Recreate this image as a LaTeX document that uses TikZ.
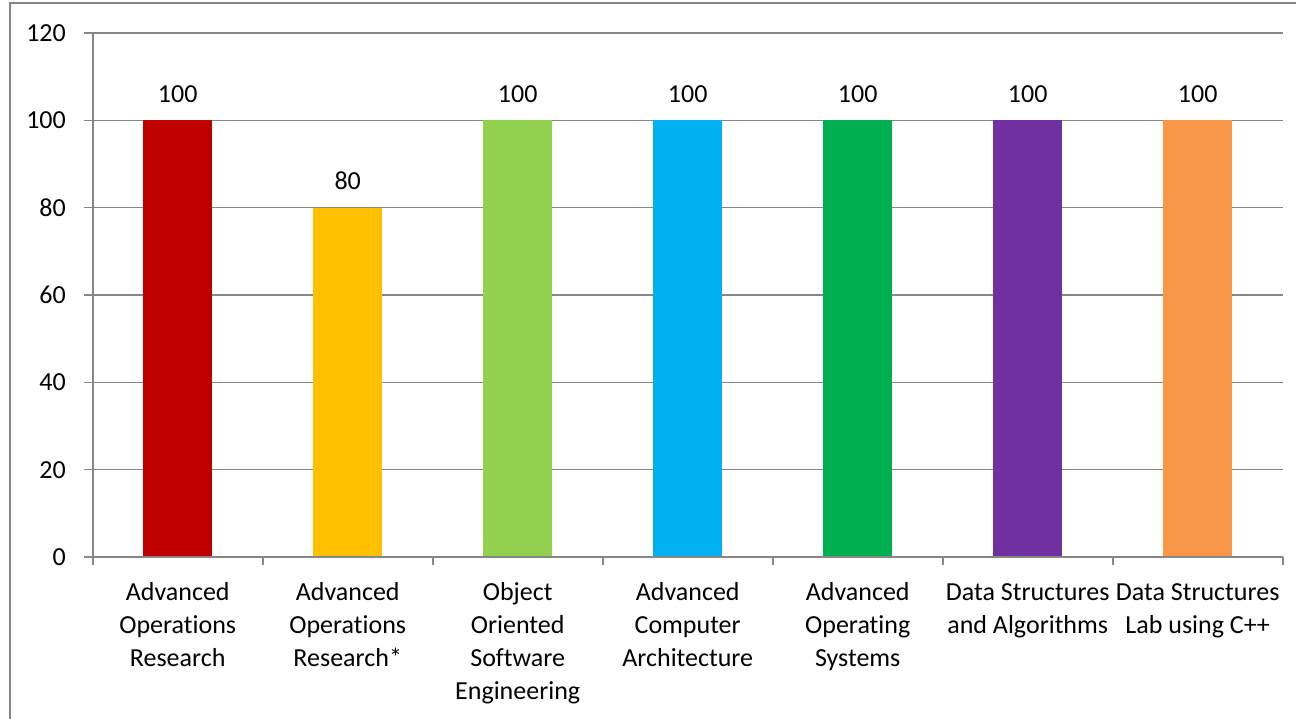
\documentclass[tikz,border=0pt]{standalone}
\usepackage{fontspec}
\setmainfont{Carlito}[Ligatures=NoCommon]
\newcommand{\firstln}{\rule{0pt}{20pt}}
\begin{document}
\begin{tikzpicture}[x=1pt,y=-1pt,
  grid/.style={draw=black!47,line width=1.6pt},
  frameline/.style={draw=black!47,line width=1.6pt},
  vallabel/.style={anchor=base,font=\fontsize{26}{30}\selectfont,inner sep=0pt},
  ticklabel/.style={anchor=east,font=\fontsize{26}{30}\selectfont,inner sep=0pt},
  catlabel/.style={anchor=north,align=center,font=\fontsize{26}{33}\selectfont,inner sep=0pt}]
\useasboundingbox (0,0) rectangle (1296,718);
\definecolor{c1}{HTML}{C00000}
\definecolor{c2}{HTML}{FFC000}
\definecolor{c3}{HTML}{92D050}
\definecolor{c4}{HTML}{00B0F0}
\definecolor{c5}{HTML}{00B050}
\definecolor{c6}{HTML}{7030A0}
\definecolor{c7}{HTML}{F79646}
% frame
\coordinate (fbl) at (10,720);
\coordinate (ftl) at (10,3);
\coordinate (ftr) at (1298,3);
\draw[frameline] (fbl) -- (ftl) -- (ftr);
% gridlines and y labels
\foreach \v in {0,20,...,120}{
  \pgfmathsetmacro{\yy}{557-4.3667*\v}
  \coordinate (gl\v) at (84,\yy);
  \coordinate (gr\v) at (1282.7,\yy);
  \draw[grid] (gl\v) -- (gr\v);
  \node[ticklabel] (yl\v) at (66,\yy) {\v};
}
% y axis
\coordinate (ya) at (92.7,33);
\coordinate (yb) at (92.7,557);
\draw[grid] (ya) -- (yb);
% x ticks
\foreach \i in {0,...,7}{
  \coordinate (ta\i) at (92.7+170*\i,557);
  \coordinate (tb\i) at (92.7+170*\i,565);
  \draw[grid] (ta\i) -- (tb\i);
}
% bars
\foreach \i/\c/\v in {0/c1/100,1/c2/80,2/c3/100,3/c4/100,4/c5/100,5/c6/100,6/c7/100}{
  \pgfmathsetmacro{\cx}{92.7+170*\i+85}
  \pgfmathsetmacro{\top}{557-4.3667*\v}
  \fill[\c] (\cx-34.5,556.2) rectangle (\cx+34.5,\top);
  \node[vallabel] (v\i) at (\cx,\top-18) {\v};
}
% category labels
\node[catlabel] (k0) at (177.7,580) {\firstln Advanced\\Operations\\Research};
\node[catlabel] (k1) at (347.7,580) {\firstln Advanced\\Operations\\Research*};
\node[catlabel] (k2) at (517.7,580) {\firstln Object\\Oriented\\Software\\Engineering};
\node[catlabel] (k3) at (687.7,580) {\firstln Advanced\\Computer\\Architecture};
\node[catlabel] (k4) at (857.7,580) {\firstln Advanced\\Operating\\Systems};
\node[catlabel] (k5) at (1027.7,580) {\firstln Data Structures\\and Algorithms};
\node[catlabel] (k6) at (1197.7,580) {\firstln Data Structures\\Lab using C++};
\end{tikzpicture}
\end{document}
